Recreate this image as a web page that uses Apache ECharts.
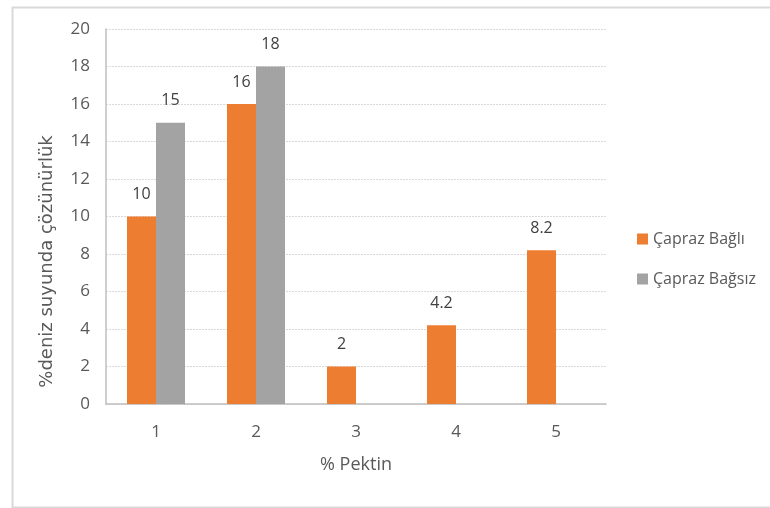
<!DOCTYPE html>
<html>
<head>
<meta charset="utf-8">
<script src="https://cdn.jsdelivr.net/npm/echarts@6/dist/echarts.min.js"></script>
<style>
  html, body { margin: 0; padding: 0; background: #ffffff; }
  #chart { width: 770px; height: 508px; }
</style>
</head>
<body>
<div id="chart"></div>
<script>
// Pectin percentage categories
const categories = ['1', '2', '3', '4', '5'];
// Solubility in sea water (%) for each pectin level
const crossLinked = [10, 16, 2, 4.2, 8.2];
const nonCrossLinked = [15, 18, null, null, null];
const seriesNames = ['Çapraz Bağlı', 'Çapraz Bağsız'];
const yTicks = { min: 0, max: 20, interval: 2 };

const chart = echarts.init(document.getElementById('chart'));
const fontFamily = '"Open Sans", "Noto Sans", sans-serif';
const labelStyle = {
  show: true,
  position: 'top',
  distance: 14,
  color: '#404040',
  fontSize: 16,
  fontFamily: fontFamily
};

chart.setOption({
  animation: false,
  backgroundColor: '#ffffff',
  graphic: [{
    type: 'rect',
    left: 10, top: 5,
    shape: { width: 762, height: 500 },
    style: { fill: 'none', stroke: '#d9d9d9', lineWidth: 2 },
    silent: true
  }],
  legend: {
    orient: 'vertical',
    left: 632,
    top: 226,
    itemWidth: 11,
    itemHeight: 11,
    itemGap: 24,
    icon: 'rect',
    textStyle: { color: '#595959', fontSize: 16, fontFamily: fontFamily },
    data: seriesNames
  },
  grid: { left: 106, right: 164, top: 29, bottom: 104 },
  xAxis: {
    type: 'category',
    data: categories,
    name: '% Pektin',
    nameLocation: 'middle',
    nameGap: 52,
    nameTextStyle: { color: '#595959', fontSize: 18, fontFamily: fontFamily },
    axisLine: { lineStyle: { color: '#bfbfbf', width: 1.5 } },
    axisTick: { show: false },
    axisLabel: { color: '#595959', fontSize: 17, margin: 20, fontFamily: fontFamily }
  },
  yAxis: {
    type: 'value',
    min: yTicks.min,
    max: yTicks.max,
    interval: yTicks.interval,
    name: '%deniz suyunda çözünürlük',
    nameLocation: 'middle',
    nameGap: 50,
    nameTextStyle: {
      color: '#595959',
      fontSize: 18,
      fontFamily: '"DejaVu Sans", Verdana, sans-serif',
      padding: [0, 90, 0, 0]
    },
    axisLine: { show: true, lineStyle: { color: '#bfbfbf', width: 1.5 } },
    axisTick: { show: false },
    axisLabel: { color: '#595959', fontSize: 17, margin: 16, fontFamily: fontFamily },
    splitLine: { lineStyle: { color: '#d9d9d9', width: 1, type: [2, 1] } }
  },
  series: [
    {
      name: seriesNames[0],
      type: 'bar',
      data: crossLinked,
      barWidth: 29,
      barGap: '0%',
      itemStyle: { color: '#ED7D31' },
      label: labelStyle
    },
    {
      name: seriesNames[1],
      type: 'bar',
      data: nonCrossLinked,
      barWidth: 29,
      itemStyle: { color: '#a3a3a3' },
      label: labelStyle
    }
  ]
});
</script>
</body>
</html>
